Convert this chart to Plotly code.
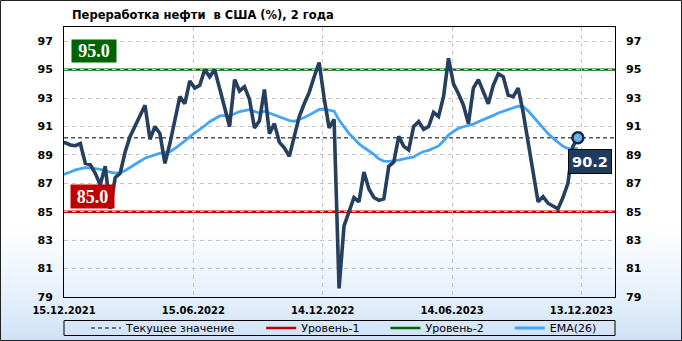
import base64
import struct
import zlib
from datetime import date, timedelta

import plotly.graph_objects as go

# ---------------- data ----------------
title_text = "Переработка нефти  в США (%), 2 года"
start_week = date(2021, 12, 10)
refining = [89.9, 89.85, 89.7, 89.65, 89.8, 88.4, 88.3, 87.7, 86.9, 88.2,
            85.2, 87.4, 87.7, 89.2, 90.3, 91.0, 91.7, 92.5, 90.1, 91.0,
            90.5, 88.4, 89.8, 91.5, 93.1, 92.6, 94.2, 93.7, 93.9, 95.0,
            94.5, 95.0, 93.7, 92.3, 91.0, 94.3, 93.5, 93.8, 92.9, 90.9,
            91.4, 93.6, 90.5, 91.2, 89.9, 89.5, 88.9, 90.3, 91.7, 92.6,
            93.4, 94.5, 95.5, 93.0, 90.9, 91.5, 79.6, 84.0, 85.1, 86.0,
            85.7, 87.8, 86.6, 86.0, 85.8, 85.9, 88.2, 88.5, 90.3, 89.6,
            89.35, 91.0, 91.35, 90.8, 91.0, 92.0, 91.7, 93.1, 95.8, 94.0,
            93.3, 92.5, 91.2, 93.7, 94.3, 93.5, 92.6, 93.9, 94.7, 94.5,
            93.2, 93.1, 93.7, 92.0, 89.8, 87.6, 85.7, 86.06, 85.6, 85.4,
            85.2, 86.0, 87.0, 89.6, 90.2]
ema26 = [87.55, 87.65, 87.8, 87.94, 88.03, 88.1, 88.08, 88.05, 87.98, 87.9,
         87.78, 87.72, 87.76, 87.9, 88.1, 88.32, 88.55, 88.77, 88.9, 89.03,
         89.12, 89.17, 89.23, 89.45, 89.7, 89.98, 90.28, 90.52, 90.76, 91.05,
         91.33, 91.55, 91.74, 91.76, 91.76, 91.9, 92.05, 92.12, 92.18, 92.06,
         91.95, 92.08, 91.95, 91.8, 91.65, 91.52, 91.42, 91.36, 91.48, 91.63,
         91.8, 91.98, 92.2, 92.22, 92.17, 92.08, 91.45, 90.95, 90.5, 90.15,
         89.78, 89.52, 89.3, 89.03, 88.72, 88.56, 88.55, 88.57, 88.63, 88.72,
         88.77, 88.86, 89.07, 89.24, 89.32, 89.45, 89.63, 89.98, 90.4, 90.65,
         90.87, 90.98, 91.05, 91.17, 91.33, 91.47, 91.6, 91.78, 91.95, 92.07,
         92.2, 92.3, 92.43, 92.4, 92.1, 91.7, 91.3, 90.9, 90.5, 90.18,
         89.87, 89.6, 89.45, 89.4, 89.45]
dates = [start_week + timedelta(weeks=i) for i in range(len(refining))]
level1 = 85.0
level2 = 95.0
current = refining[-1]

x_tick_vals = ["2021-12-15", "2022-06-15", "2022-12-14", "2023-06-14", "2023-12-13"]
x_tick_text = ["15.12.2021", "15.06.2022", "14.12.2022", "14.06.2023", "13.12.2023"]
x_range = ["2021-12-15", "2024-01-29 06:00"]
y_ticks = [79, 81, 83, 85, 87, 89, 91, 93, 95, 97]
y_range = [79, 98]

legend_names = ["Текущее значение", "Уровень-1", "Уровень-2", "EMA(26)"]

# ---------------- styling helpers ----------------
W, H = 682, 341
PL, PR, PT, PB = 64, 615, 27, 297


def px_x(p):
    return (p - PL) / (PR - PL)


def px_y(p):
    return (PB - p) / (PB - PT)


def gradient_png(h, stops):
    rows = b""
    for i in range(h):
        for (y0, c0), (y1, c1) in zip(stops[:-1], stops[1:]):
            if y0 <= i <= y1:
                t = 0 if y1 == y0 else (i - y0) / (y1 - y0)
                c = [round(a + (b - a) * t) for a, b in zip(c0, c1)]
                break
        rows += b"\x00" + bytes(c)

    def chunk(tag, data):
        return (struct.pack(">I", len(data)) + tag + data +
                struct.pack(">I", zlib.crc32(tag + data) & 0xffffffff))

    png = b"\x89PNG\r\n\x1a\n"
    png += chunk(b"IHDR", struct.pack(">IIBBBBB", 1, h, 8, 2, 0, 0, 0))
    png += chunk(b"IDAT", zlib.compress(rows))
    png += chunk(b"IEND", b"")
    return "data:image/png;base64," + base64.b64encode(png).decode()


bg = gradient_png(H, [(0, (255, 255, 255)), (225, (255, 255, 255)),
                      (300, (228, 239, 251)), (H - 1, (206, 225, 246))])

NAVY = "#263f5f"
EMA_C = "#42a5f5"
RED = "#c00000"
GREEN = "#006400"
FONT = "DejaVu Sans"

fig = go.Figure()

fig.add_trace(go.Scatter(x=dates, y=ema26, mode="lines", name=legend_names[3],
                         line=dict(color=EMA_C, width=2.8), legendrank=4,
                         hoverinfo="skip"))
fig.add_trace(go.Scatter(x=dates, y=refining, mode="lines", showlegend=False,
                         line=dict(color=NAVY, width=3.6), hoverinfo="skip"))
fig.add_trace(go.Scatter(x=[dates[-1]], y=[current], mode="markers", showlegend=False,
                         marker=dict(size=11, color="#6cb4e0",
                                     line=dict(color="#0b2a52", width=2.5)),
                         hoverinfo="skip"))
# invisible trace so the mirrored right-hand axis is drawn
fig.add_trace(go.Scatter(x=dates, y=refining, yaxis="y2", mode="lines",
                         line=dict(width=0), opacity=0, showlegend=False,
                         hoverinfo="skip"))

pad = "\u00a0" * 6
shapes = [
    dict(type="line", xref="paper", x0=0, x1=1, yref="y", y0=current, y1=current,
         line=dict(color="black", width=1, dash="4px,3px"), layer="between",
         showlegend=True, name=legend_names[0] + pad, legendrank=1),
    dict(type="line", xref="paper", x0=0, x1=1, yref="y", y0=level1, y1=level1,
         line=dict(color=RED, width=2.4), layer="between",
         showlegend=True, name=legend_names[1] + pad, legendrank=2),
    dict(type="line", xref="paper", x0=0, x1=1, yref="y", y0=level2, y1=level2,
         line=dict(color=GREEN, width=2.4), layer="between",
         showlegend=True, name=legend_names[2] + pad, legendrank=3),
    # legend frame
    dict(type="rect", xref="paper", yref="paper", x0=0, x1=1,
         y0=px_y(335.5), y1=px_y(320.5), line=dict(color="black", width=1),
         fillcolor="rgba(0,0,0,0)", layer="above"),
    # outer frame
    dict(type="rect", xref="paper", yref="paper", x0=px_x(0.5), x1=px_x(W - 0.5),
         y0=px_y(H - 0.5), y1=px_y(0.5), line=dict(color="#222222", width=1),
         fillcolor="rgba(0,0,0,0)", layer="above"),
]

axis_font = dict(family=FONT, size=11, color="black", weight="bold")
grid = dict(showgrid=True, gridcolor="#c4c4c4", griddash="4px,4px", gridwidth=1,
            zeroline=False, showline=True, linecolor="black", linewidth=1,
            ticks="")

fig.update_layout(
    width=W, height=H,
    margin=dict(l=PL, r=W - PR, t=PT, b=H - PB, pad=0, autoexpand=False),
    paper_bgcolor="white", plot_bgcolor="rgba(0,0,0,0)",
    font=dict(family=FONT, color="black"),
    xaxis=dict(type="date", range=x_range, tickvals=x_tick_vals, ticktext=x_tick_text,
               tickfont=dict(family=FONT, size=10, color="black", weight="bold"),
               mirror=True, ticklabelstandoff=4, automargin=False, **grid),
    yaxis=dict(range=y_range, tickvals=y_ticks, tickfont=axis_font, mirror=True,
               ticklabelstandoff=8, automargin=False, **grid),
    yaxis2=dict(range=y_range, tickvals=y_ticks, tickfont=axis_font, overlaying="y",
                side="right", showgrid=False, zeroline=False, showline=False,
                ticklabelstandoff=10, automargin=False),
    shapes=shapes,
    showlegend=True,
    legend=dict(orientation="h", x=px_x(86), xanchor="left", y=px_y(328),
                yanchor="middle", bgcolor="rgba(0,0,0,0)", borderwidth=0,
                font=dict(family=FONT, size=11, color="black"), itemwidth=30),
    images=[dict(source=bg, xref="paper", yref="paper", x=px_x(0), y=px_y(0),
                 sizex=W / (PR - PL), sizey=H / (PB - PT), sizing="stretch",
                 xanchor="left", yanchor="top", layer="below")],
    annotations=[
        dict(text=title_text, xref="paper", yref="paper", x=px_x(70), y=px_y(15),
             xanchor="left", yanchor="middle", showarrow=False,
             font=dict(family=FONT, size=11.5, color="black", weight="bold")),
        dict(text=f"{level2:.1f}", xref="paper", x=px_x(71), xanchor="left",
             yref="y", y=level2, yanchor="bottom", yshift=7, showarrow=False,
             width=44, height=22, bgcolor=GREEN, borderpad=0,
             font=dict(family="Liberation Serif", size=18, color="white", weight="bold")),
        dict(text=f"{level1:.1f}", xref="paper", x=px_x(70), xanchor="left",
             yref="y", y=level1, yanchor="bottom", yshift=3, showarrow=False,
             width=43, height=23, bgcolor=RED, borderpad=0,
             font=dict(family="Liberation Serif", size=18, color="white", weight="bold")),
        dict(text=f"{current:.1f}", x=dates[-1], y=current, xanchor="left",
             yanchor="top", xshift=-10, yshift=-11, showarrow=False,
             width=42, height=23, bgcolor="#1e3a5f", bordercolor="#0a0a0a",
             borderwidth=1, borderpad=0,
             font=dict(family=FONT, size=14.5, color="white", weight="bold")),
    ],
)

fig.write_html("out.html")
